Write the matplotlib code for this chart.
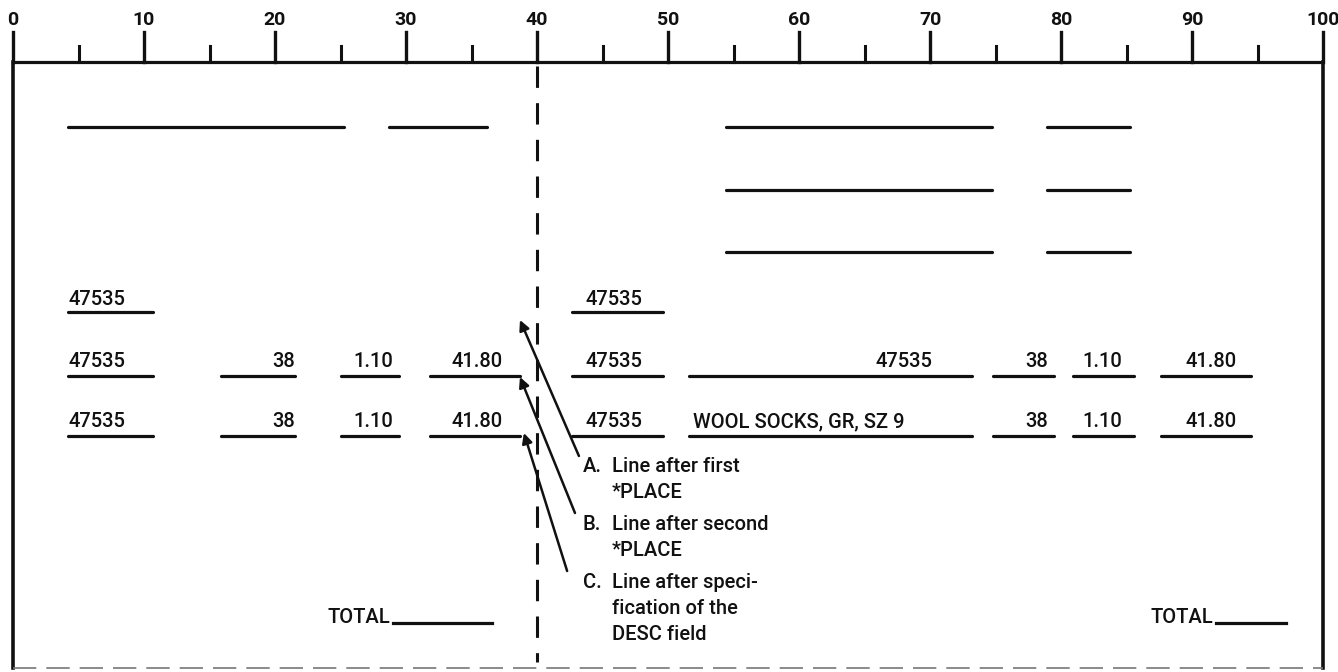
import matplotlib

matplotlib.use("Agg")
import matplotlib.pyplot as plt

# ruler (print positions)
ruler_major = list(range(0, 101, 10))
ruler_minor = list(range(5, 100, 10))

# blank form lines: start col, end col, row (pixel row)
blank_start = [4.2, 28.7, 54.4, 78.9, 54.4, 78.9, 54.4, 78.9]
blank_end = [25.3, 36.2, 74.7, 85.3, 74.7, 85.3, 74.7, 85.3]
blank_row = [127, 127, 127, 127, 190, 190, 252, 252]

# printed fields per line
row_baseline = [305, 367, 427]
row_underline = [312, 376, 436]

field_row = [0, 0,
             1, 1, 1, 1, 1, 1, 1, 1, 1,
             2, 2, 2, 2, 2, 2, 2, 2, 2]
field_text = ["47535", "47535",
              "47535", "38", "1.10", "41.80", "47535", "47535", "38", "1.10", "41.80",
              "47535", "38", "1.10", "41.80", "47535", "WOOL SOCKS, GR, SZ 9", "38", "1.10", "41.80"]
field_x = [4.2, 43.7,
           4.2, 21.5, 29.0, 37.4, 43.7, 70.2, 79.0, 84.7, 93.4,
           4.2, 21.5, 29.0, 37.4, 43.7, 51.9, 79.0, 84.7, 93.4]
field_align = ["left", "left",
               "left", "right", "right", "right", "left", "right", "right", "right", "right",
               "left", "right", "right", "right", "left", "left", "right", "right", "right"]
line_start = [4.2, 42.7,
              4.2, 15.9, 25.0, 31.8, 42.7, 51.6, 74.8, 80.9, 87.6,
              4.2, 15.9, 25.0, 31.8, 42.7, 51.6, 74.8, 80.9, 87.6]
line_end = [10.7, 49.6,
            10.7, 21.5, 29.5, 38.7, 49.6, 73.2, 79.5, 85.6, 94.5,
            10.7, 21.5, 29.5, 38.7, 49.6, 73.2, 79.5, 85.6, 94.5]

# totals
total_x = [28.8, 91.6]
total_line_end = [36.6, 97.2]
total_y = 623

# callouts
arrow_head_x = [38.7, 38.7, 39.0]
arrow_head_y = [320, 377, 433]
arrow_tail_x = [43.2, 42.9, 42.3]
arrow_tail_y = [456, 513, 571]
callout_letter = ["A.", "B.", "C."]
callout_lines = [["Line after first", "*PLACE"],
                 ["Line after second", "*PLACE"],
                 ["Line after speci-", "fication of the", "DESC field"]]
callout_y = [467, 525, 583]

ink = "#111111"
lw = 2.3
font = ["Roboto", "Liberation Sans", "DejaVu Sans"]
txt = dict(fontsize=14.5, family=font, fontweight="medium", color=ink)

fig = plt.figure(figsize=(13.38, 6.72), dpi=100)
ax = fig.add_axes([0, 0, 1, 1])
px = 13.1
ax.set_xlim(-13 / px, (1338 - 13) / px)
ax.set_ylim(672, 0)
ax.axis("off")

# ruler
top = 62
ax.plot([0, 100], [top, top], color=ink, lw=lw, solid_capstyle="butt")
for v in ruler_major:
    ax.plot([v, v], [32, top], color=ink, lw=2.4)
    ax.text(v, 20, str(v), ha="center", va="center", fontsize=14,
            fontweight="bold", family=font, color=ink)
for v in ruler_minor:
    ax.plot([v, v], [46, top], color=ink, lw=2.2)

# box
ax.plot([0, 0], [top, 668], color=ink, lw=2.6)
ax.plot([100, 100], [top, 668], color=ink, lw=2.6)
ax.plot([0, 100], [668, 668], color="#777777", lw=1.2, ls=(0, (14, 6)))

# dashed column guide at 40
ax.plot([40, 40], [66, 662], color=ink, lw=2.2, ls=(0, (7, 5)))

for x0, x1, y in zip(blank_start, blank_end, blank_row):
    ax.plot([x0, x1], [y, y], color=ink, lw=lw, solid_capstyle="round")

for r, t, x, ha, x0, x1 in zip(field_row, field_text, field_x, field_align, line_start, line_end):
    ax.text(x, row_baseline[r], t, ha=ha, va="baseline", **txt)
    ax.plot([x0, x1], [row_underline[r]] * 2, color=ink, lw=lw, solid_capstyle="round")

for x, x1 in zip(total_x, total_line_end):
    ax.text(x, total_y, "TOTAL", ha="right", va="baseline", **txt)
    ax.plot([x + 0.2, x1], [total_y, total_y], color=ink, lw=lw)

for hx, hy, tx, ty in zip(arrow_head_x, arrow_head_y, arrow_tail_x, arrow_tail_y):
    ax.annotate("", xy=(hx, hy), xytext=(tx, ty),
                arrowprops=dict(arrowstyle="-|>", color=ink, lw=1.8,
                                mutation_scale=15, shrinkA=0, shrinkB=0))

for letter, lines, y in zip(callout_letter, callout_lines, callout_y):
    ax.text(43.5, y, letter, ha="left", va="center", **txt)
    for i, s in enumerate(lines):
        ax.text(45.7, y + i * 25.5, s, ha="left", va="center", **txt)

fig.savefig("out.png", dpi=100, facecolor="white")
